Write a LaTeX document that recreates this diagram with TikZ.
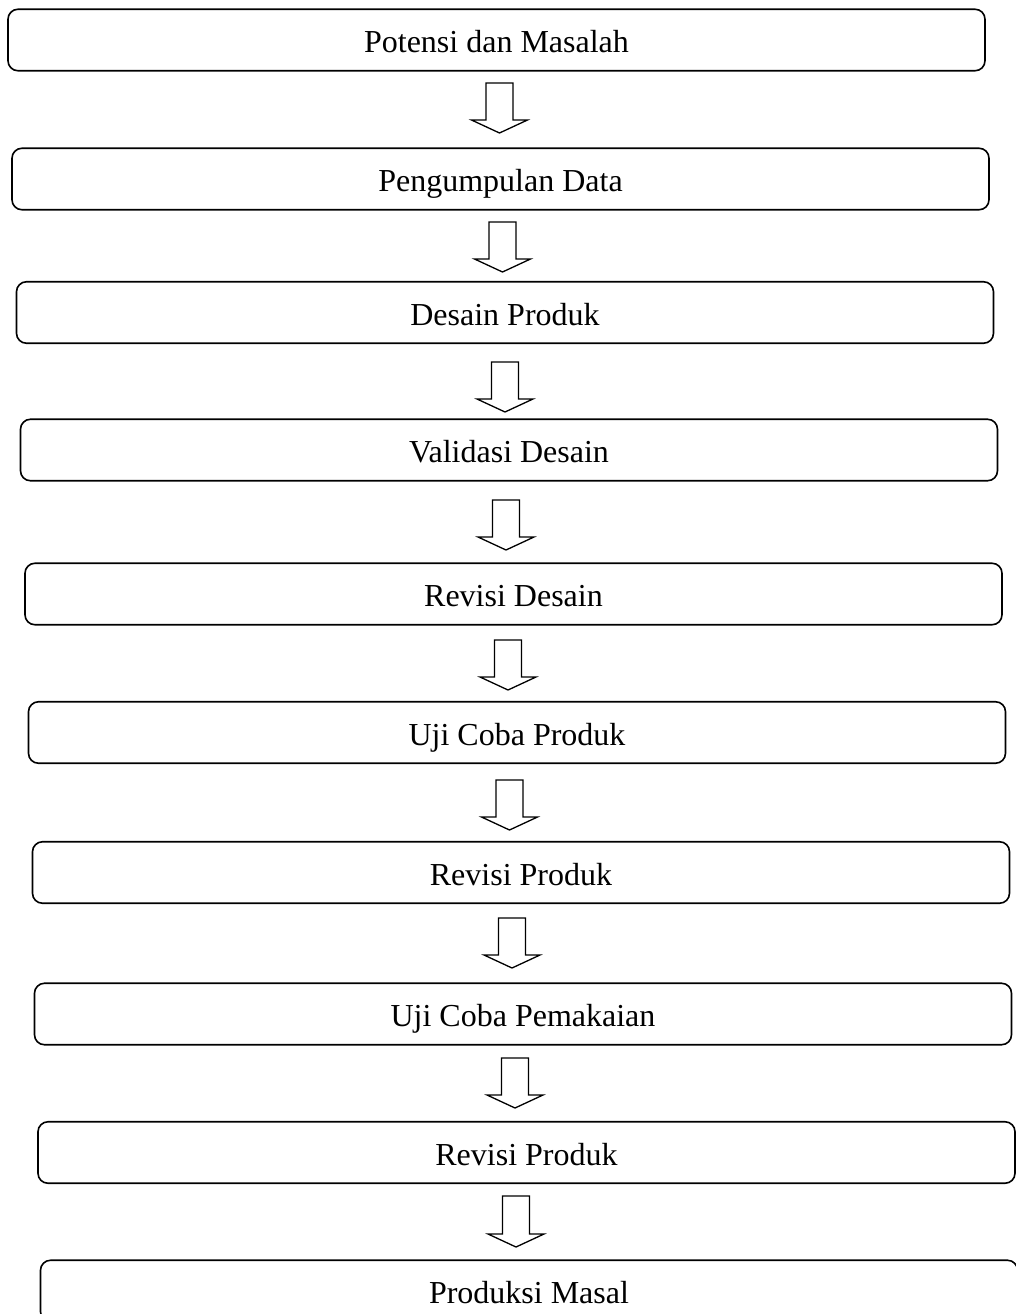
\documentclass[tikz,border=0pt]{standalone}
\usepackage{fontspec}
\setmainfont{Liberation Serif}
\usepackage{tikz}
\usetikzlibrary{calc}

\tikzset{
  stepbox/.style={draw, rounded corners=10pt, line width=1.6pt, minimum width=977pt, minimum height=61.5pt, inner sep=0pt, text height=25pt, text depth=0pt},
  flowarrow/.style={draw, line width=1.3pt, line join=miter,
    to path={let \p1=(\tikztostart), \p2=(\tikztotarget) in
      (\x1-13.5pt,\y1) -- (\x1-13.5pt,\y2+13pt) -- (\x1-28pt,\y2+13pt) -- (\x2,\y2)
      -- (\x1+28pt,\y2+13pt) -- (\x1+13.5pt,\y2+13pt) -- (\x1+13.5pt,\y1) -- cycle}}
}

\begin{document}
\begin{tikzpicture}[x=1pt, y=-1pt, font=\fontsize{32}{38}\selectfont]
  \useasboundingbox (0,0) rectangle (1015,1314);

  % Steps as boxes
  \node[stepbox] (pot) at (496.5,40) {Potensi dan Masalah};
  \node[stepbox] (data) at (500.5,179) {Pengumpulan Data};
  \node[stepbox] (desain) at (505,312.5) {Desain Produk};
  \node[stepbox] (valid) at (509,450) {Validasi Desain};
  \node[stepbox] (revdes) at (513.5,594) {Revisi Desain};
  \node[stepbox] (ujiprod) at (517,732.5) {Uji Coba Produk};
  \node[stepbox] (revprod) at (521,872.5) {Revisi Produk};
  \node[stepbox] (ujipakai) at (523,1014) {Uji Coba Pemakaian};
  \node[stepbox] (revprod2) at (526.5,1152.5) {Revisi Produk};
  \node[stepbox] (masal) at (529,1291) {Produksi Masal};

  % Arrow ends
  \coordinate (t1) at (499.5,83);   \coordinate (h1) at (499.5,133);
  \coordinate (t2) at (502.5,222);  \coordinate (h2) at (502.5,272);
  \coordinate (t3) at (505,362);    \coordinate (h3) at (505,412);
  \coordinate (t4) at (506,500);    \coordinate (h4) at (506,550);
  \coordinate (t5) at (508,640);    \coordinate (h5) at (508,690);
  \coordinate (t6) at (509.5,780);  \coordinate (h6) at (509.5,830);
  \coordinate (t7) at (512,918);    \coordinate (h7) at (512,968);
  \coordinate (t8) at (515,1058);   \coordinate (h8) at (515,1108);
  \coordinate (t9) at (516,1196);   \coordinate (h9) at (516,1247);

  % Arrows
  \draw[flowarrow] (t1) to (h1);
  \draw[flowarrow] (t2) to (h2);
  \draw[flowarrow] (t3) to (h3);
  \draw[flowarrow] (t4) to (h4);
  \draw[flowarrow] (t5) to (h5);
  \draw[flowarrow] (t6) to (h6);
  \draw[flowarrow] (t7) to (h7);
  \draw[flowarrow] (t8) to (h8);
  \draw[flowarrow] (t9) to (h9);
\end{tikzpicture}
\end{document}
